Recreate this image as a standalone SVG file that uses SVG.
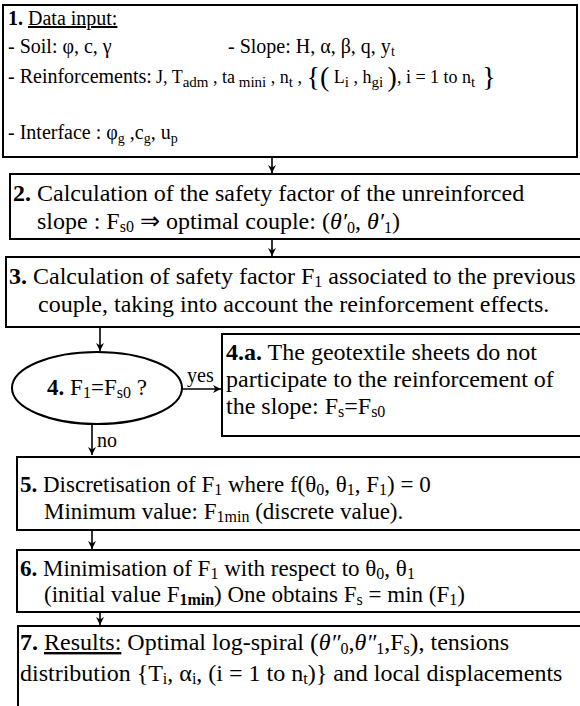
<svg xmlns="http://www.w3.org/2000/svg" width="580" height="706" viewBox="0 0 580 706">
<defs>
<marker id="ah" viewBox="0 0 10 10" refX="10" refY="5" markerWidth="8" markerHeight="8" orient="auto" markerUnits="userSpaceOnUse">
<path d="M0,0 L10,5 L0,10 L3,5 z" fill="#000"/>
</marker>
<style>
.box{fill:#fff;stroke:#000;stroke-width:2}
.t{font-family:"Liberation Serif","Times New Roman",serif;font-size:20px;fill:#000}
.l{font-size:24px}
.m{font-size:23px}
.b{font-weight:bold}
.u{text-decoration:underline}
.s{font-size:14px}
.s2{font-size:16px}
.f{font-family:"Liberation Serif","Times New Roman",serif;font-size:18px}
.fs{font-size:15px}
.big{font-size:28px}
.c{stroke:#000;stroke-width:1.6;fill:none;marker-end:url(#ah)}
</style>
</defs>
<rect width="580" height="706" fill="#fff"/>

<g id="connectors">
<line class="c" x1="272" y1="157" x2="272" y2="173"/>
<line class="c" x1="272" y1="239" x2="272" y2="256"/>
<line class="c" x1="100" y1="327" x2="100" y2="351"/>
<line class="c" x1="182" y1="389" x2="221" y2="389"/>
<line class="c" x1="92" y1="424" x2="92" y2="455"/>
<line class="c" x1="92" y1="530" x2="92" y2="549"/>
<line class="c" x1="100" y1="612" x2="100" y2="625"/>
<text class="t" x="187" y="382">yes</text>
<text class="t" x="97" y="447">no</text>
</g>

<g id="n1">
<rect class="box" x="3" y="5" width="574" height="152"/>
<text class="t" x="8" y="25"><tspan class="b">1.</tspan> <tspan class="u">Data input:</tspan></text>
<text class="t" x="8" y="53">- Soil: φ, c, γ</text>
<text class="t" x="228" y="53">- Slope: H, α, β, q, y<tspan class="s" dy="3">t</tspan></text>
<text class="t" x="8" y="83">- Reinforcements:</text>
<text class="f" x="156" y="83">J, T<tspan class="fs" dy="4">adm</tspan><tspan dy="-4"> , ta</tspan><tspan class="fs" dy="4"> mini</tspan><tspan dy="-4"> , n</tspan><tspan class="fs" dy="4">t</tspan><tspan dy="-4"> , </tspan><tspan class="big" dy="3">{(</tspan><tspan dy="-3"> L</tspan><tspan class="fs" dy="4">i</tspan><tspan dy="-4"> , h</tspan><tspan class="fs" dy="4">gi</tspan><tspan dy="-4">   </tspan><tspan class="big" dy="3">)</tspan><tspan dy="-3">, i = 1  to  n</tspan><tspan class="fs" dy="4">t</tspan><tspan class="big" dy="-1"> }</tspan></text>
<text class="t" x="8" y="139">- Interface : φ<tspan class="s" dy="4">g</tspan><tspan dy="-4"> ,c</tspan><tspan class="s" dy="4">g</tspan><tspan dy="-4">, u</tspan><tspan class="s" dy="4">p</tspan></text>
</g>

<g id="n2">
<rect class="box" x="10" y="174" width="580" height="65"/>
<text class="t l" x="13" y="201"><tspan class="b">2.</tspan> Calculation of the safety factor of the unreinforced</text>
<text class="t l" x="37" y="229">slope : F<tspan class="s2" dy="3">s0</tspan><tspan dy="-3"> ⇒ optimal couple: (</tspan><tspan font-style="italic">θ′</tspan><tspan class="s2" dy="4">0</tspan><tspan dy="-4">, </tspan><tspan font-style="italic">θ′</tspan><tspan class="s2" dy="4">1</tspan><tspan dy="-4">)</tspan></text>
</g>

<g id="n3">
<rect class="box" x="6" y="257" width="584" height="70"/>
<text class="t l" x="9" y="284"><tspan class="b">3.</tspan> Calculation of safety factor F<tspan class="s2" dy="3">1</tspan><tspan dy="-3"> associated to the previous</tspan></text>
<text class="t l" x="38" y="312">couple, taking into account the reinforcement effects.</text>
</g>

<g id="n4">
<ellipse cx="97" cy="388" rx="85" ry="36" fill="#fff" stroke="#000" stroke-width="2"/>
<text class="t m" x="97" y="395" text-anchor="middle"><tspan class="b">4.</tspan> F<tspan class="s2" dy="3">1</tspan><tspan dy="-3">=F</tspan><tspan class="s2" dy="3">s0</tspan><tspan dy="-3"> ?</tspan></text>
</g>

<g id="n4a">
<rect class="box" x="222" y="334" width="368" height="102"/>
<text class="t l" x="226" y="360"><tspan class="b">4.a.</tspan> The geotextile sheets do not</text>
<text class="t l" x="226" y="387">participate to the reinforcement of</text>
<text class="t l" x="226" y="414">the slope: F<tspan class="s2" dy="3">s</tspan><tspan dy="-3">=F</tspan><tspan class="s2" dy="3">s0</tspan></text>
</g>

<g id="n5">
<rect class="box" x="17" y="457" width="573" height="73"/>
<text class="t m" x="20" y="492"><tspan class="b">5.</tspan> Discretisation of F<tspan class="s2" dy="3">1</tspan><tspan dy="-3"> where f(θ</tspan><tspan class="s2" dy="3">0</tspan><tspan dy="-3">, θ</tspan><tspan class="s2" dy="3">1</tspan><tspan dy="-3">, F</tspan><tspan class="s2" dy="3">1</tspan><tspan dy="-3">) = 0</tspan></text>
<text class="t m" x="44" y="519">Minimum value: F<tspan class="s2" dy="3">1min</tspan><tspan dy="-3"> (discrete value).</tspan></text>
</g>

<g id="n6">
<rect class="box" x="17" y="550" width="573" height="62"/>
<text class="t m" x="20" y="576"><tspan class="b">6.</tspan> Minimisation of F<tspan class="s2" dy="3">1</tspan><tspan dy="-3"> with respect to θ</tspan><tspan class="s2" dy="3">0</tspan><tspan dy="-3">, θ</tspan><tspan class="s2" dy="3">1</tspan></text>
<text class="t m" x="44" y="602">(initial value F<tspan class="s2 b" dy="3">1min</tspan><tspan dy="-3">) One obtains F</tspan><tspan class="s2" dy="3">s</tspan><tspan dy="-3"> = min (F</tspan><tspan class="s2" dy="3">1</tspan><tspan dy="-3">)</tspan></text>
</g>

<g id="n7">
<rect class="box" x="18" y="626" width="572" height="90"/>
<text class="t l" x="20" y="650"><tspan class="b">7.</tspan> <tspan class="u">Results:</tspan> Optimal log-spiral <tspan font-size="26" dy="1">(</tspan><tspan font-style="italic" dy="-1">θ″</tspan><tspan class="s2" dy="4">0</tspan><tspan dy="-4">,</tspan><tspan font-style="italic">θ″</tspan><tspan class="s2" dy="4">1</tspan><tspan dy="-4">,F</tspan><tspan class="s2" dy="4">s</tspan><tspan font-size="26" dy="-3">)</tspan><tspan dy="-1">, tensions</tspan></text>
<text class="t l" x="20" y="681">distribution {T<tspan class="s2" dy="3">i</tspan><tspan dy="-3">, α</tspan><tspan class="s2" dy="3">i</tspan><tspan dy="-3">, (i = 1 to n</tspan><tspan class="s2" dy="3">t</tspan><tspan dy="-3">)} and local displacements</tspan></text>
</g>
</svg>
